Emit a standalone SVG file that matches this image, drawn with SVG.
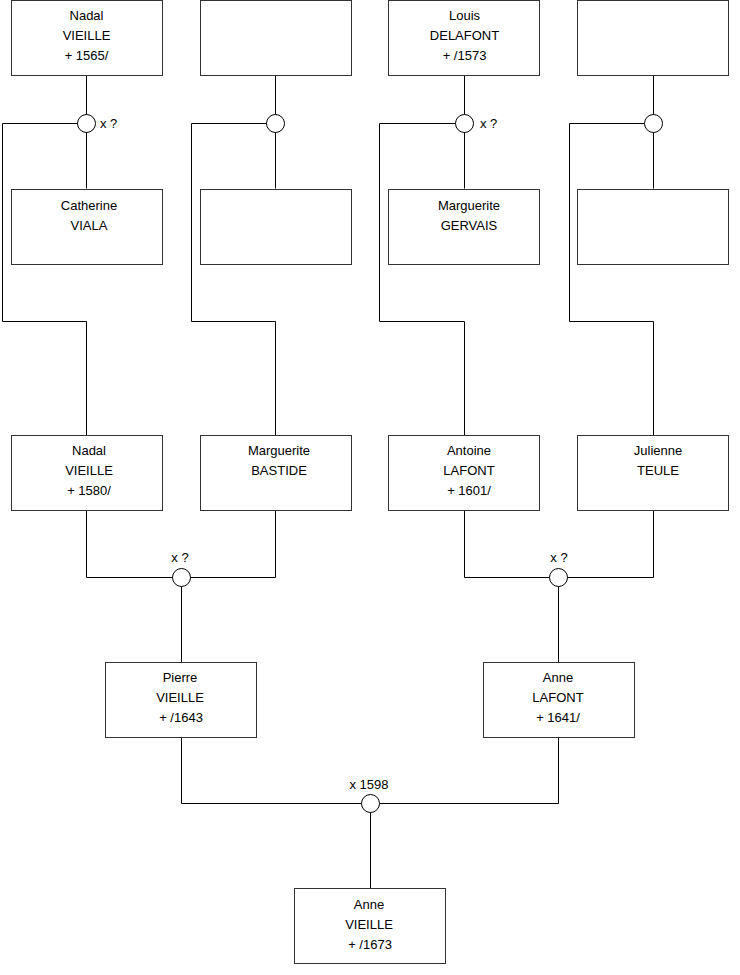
<svg xmlns="http://www.w3.org/2000/svg" width="740" height="975" viewBox="0 0 740 975">
<style>
.box{fill:#fff;stroke:#333;stroke-width:1}
.c{fill:#fff;stroke:#000;stroke-width:1}
.ln{fill:none;stroke:#000;stroke-width:1}
text{font-family:"Liberation Sans",Arial,sans-serif;font-size:13px;fill:#000;text-anchor:middle}
.l{text-anchor:start}
</style>
<rect width="740" height="975" fill="#fff"/>
<g id="connectors">
<path class="ln" d="M86.5 75.5V188.5M86.5 123.5H2.5V321.5H86.5V435.5"/>
<path class="ln" d="M275.5 75.5V188.5M275.5 123.5H191.5V321.5H275.5V435.5"/>
<path class="ln" d="M464.5 75.5V188.5M464.5 123.5H379.5V321.5H464.5V435.5"/>
<path class="ln" d="M653.5 75.5V188.5M653.5 123.5H569.5V321.5H653.5V435.5"/>
<path class="ln" d="M86.5 510.5V577.5H275.5V510.5M181.5 577.5V662.5"/>
<path class="ln" d="M464.5 510.5V577.5H653.5V510.5M558.5 577.5V662.5"/>
<path class="ln" d="M181.5 737.5V803.5H558.5V737.5M370.5 803.5V888.5"/>
</g>
<g id="n1"><rect class="box" x="11.5" y="0.5" width="151" height="75"/><text x="86.5" y="20">Nadal</text><text x="86.5" y="40">VIEILLE</text><text x="86.5" y="60">+ 1565/</text></g>
<g id="n2"><rect class="box" x="200.5" y="0.5" width="151" height="75"/></g>
<g id="n3"><rect class="box" x="388.5" y="0.5" width="151" height="75"/><text x="464.5" y="20">Louis</text><text x="464.5" y="40">DELAFONT</text><text x="464.5" y="60">+ /1573</text></g>
<g id="n4"><rect class="box" x="577.5" y="0.5" width="151" height="75"/></g>
<g id="m1"><circle class="c" cx="86.5" cy="123.5" r="9"/><text class="l" x="100" y="128">x ?</text></g>
<g id="m2"><circle class="c" cx="275.5" cy="123.5" r="9"/></g>
<g id="m3"><circle class="c" cx="464.5" cy="123.5" r="9"/><text class="l" x="480" y="128">x ?</text></g>
<g id="m4"><circle class="c" cx="653.5" cy="123.5" r="9"/></g>
<g id="n5"><rect class="box" x="11.5" y="189.5" width="151" height="75"/><text x="89" y="210">Catherine</text><text x="89" y="230">VIALA</text></g>
<g id="n6"><rect class="box" x="200.5" y="189.5" width="151" height="75"/></g>
<g id="n7"><rect class="box" x="388.5" y="189.5" width="151" height="75"/><text x="469" y="210">Marguerite</text><text x="469" y="230">GERVAIS</text></g>
<g id="n8"><rect class="box" x="577.5" y="189.5" width="151" height="75"/></g>
<g id="n9"><rect class="box" x="11.5" y="435.5" width="151" height="75"/><text x="89" y="455">Nadal</text><text x="89" y="475">VIEILLE</text><text x="89" y="495">+ 1580/</text></g>
<g id="n10"><rect class="box" x="200.5" y="435.5" width="151" height="75"/><text x="279" y="455">Marguerite</text><text x="279" y="475">BASTIDE</text></g>
<g id="n11"><rect class="box" x="388.5" y="435.5" width="151" height="75"/><text x="469" y="455">Antoine</text><text x="469" y="475">LAFONT</text><text x="469" y="495">+ 1601/</text></g>
<g id="n12"><rect class="box" x="577.5" y="435.5" width="151" height="75"/><text x="658" y="455">Julienne</text><text x="658" y="475">TEULE</text></g>
<g id="m5"><circle class="c" cx="181.5" cy="577.5" r="9"/><text x="180" y="562">x ?</text></g>
<g id="m6"><circle class="c" cx="558.5" cy="577.5" r="9"/><text x="559" y="562">x ?</text></g>
<g id="n13"><rect class="box" x="105.5" y="662.5" width="151" height="75"/><text x="180" y="682">Pierre</text><text x="180" y="702">VIEILLE</text><text x="181" y="722">+ /1643</text></g>
<g id="n14"><rect class="box" x="483.5" y="662.5" width="151" height="75"/><text x="558" y="682">Anne</text><text x="558" y="702">LAFONT</text><text x="558" y="722">+ 1641/</text></g>
<g id="m7"><circle class="c" cx="370.5" cy="803.5" r="9"/><text x="369" y="789">x 1598</text></g>
<g id="n15"><rect class="box" x="294.5" y="888.5" width="151" height="75"/><text x="369" y="909">Anne</text><text x="369" y="929">VIEILLE</text><text x="370" y="949">+ /1673</text></g>
</svg>
